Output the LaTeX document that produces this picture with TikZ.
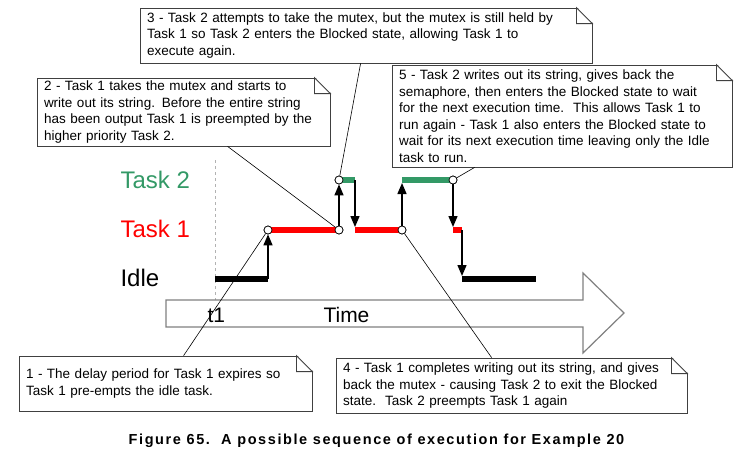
\documentclass[tikz,border=0pt]{standalone}
\usepackage{fontspec}
\setmainfont{Liberation Sans}
\newfontfamily\capfont[LetterSpace=11]{Liberation Sans}
\usetikzlibrary{arrows.meta}
\tikzset{>={Triangle[width=9pt,length=11pt]}}
\definecolor{taskgreen}{RGB}{51,153,102}
\definecolor{taskred}{RGB}{255,0,0}
\tikzset{
  note/.style={draw=black!75,fill=white,line width=0.8pt,align=left,
    inner xsep=7pt,inner ysep=0pt,font=\fontsize{13.5}{16.5}\selectfont},
  lane/.style={anchor=west,font=\fontsize{24}{24}\selectfont},
  bar/.style={line width=6pt},
  sw/.style={circle,draw,fill=white,minimum size=8pt,inner sep=0pt,line width=0.7pt},
  pointer/.style={draw=black,line width=0.6pt}
}

\begin{document}
\begin{tikzpicture}[x=1pt,y=-1pt]
\useasboundingbox (0,0) rectangle (735,456);

%time axis
\draw [black!30,dashed,line width=0.6pt] (215,160) -- (215,300);
\draw [black!50,line width=1.2pt,fill=white] (166,300) -- (583,300) -- (583,273) -- (624,313)
  -- (583,353) -- (583,327) -- (166,327) -- cycle;
\node [anchor=west,font=\fontsize{21}{21}\selectfont] (t1) at (204,315) {t1};
\node [anchor=west,font=\fontsize{21}{21}\selectfont] (time) at (320,315) {Time};

\node [lane,taskgreen] (lane2) at (117,180) {Task 2};
\node [lane,taskred] (lane1) at (117,229) {Task 1};
\node [lane] (lane0) at (117,278) {Idle};

\coordinate (idleA) at (215,279);
\coordinate (idleB) at (268,279);
\coordinate (g1e) at (355,180);
\coordinate (r2s) at (355,230);
\coordinate (g2s) at (402,180);
\coordinate (r3s) at (453,230);
\coordinate (r3e) at (462,230);
\coordinate (idleC) at (462,279);
\coordinate (idleD) at (536,279);

\begin{scope}[every node/.style={sw}]
\node (sw1) at (268,230) {};
\node (sw2) at (339,230) {};
\node (sw3) at (339,180) {};
\node (sw4) at (402,230) {};
\node (sw5) at (453,180) {};
\end{scope}

%bars
\draw [bar] (idleA) -- (idleB);
\draw [bar,taskred] (sw1.center) -- (sw2.center);
\draw [bar,taskgreen] (sw3.center) -- (g1e);
\draw [bar,taskred] (r2s) -- (sw4.center);
\draw [bar,taskgreen] (g2s) -- (sw5.center);
\draw [bar,taskred] (r3s) -- (r3e);
\draw [bar] (idleC) -- (idleD);

%switches
\begin{scope}[line width=1.4pt]
\draw [->] (idleB) -- (sw1);
\draw [->] (sw2) -- (sw3);
\draw [->] (g1e) -- ([yshift=3pt]r2s);
\draw [->] (sw4) -- ([yshift=-3pt]g2s);
\draw [->] (sw5) -- ([yshift=3pt]r3s);
\draw [->] (r3e) -- ([yshift=3pt]idleC);
\end{scope}

\begin{scope}[every node/.style={sw}]
\node at (sw1) {};
\node at (sw2) {};
\node at (sw3) {};
\node at (sw4) {};
\node at (sw5) {};
\end{scope}

%callouts
\node [note,text width=279pt,minimum height=55pt] (note1) at (165.5,383.5)
  {1 - The delay period for Task 1 expires so\\Task 1 pre-empts the idle task.};
\node [note,text width=279pt,minimum height=68pt] (note2) at (183.5,112)
  {2 - Task 1 takes the mutex and starts to\\write out its string. Before the entire string\\has been output Task 1 is preempted by the\\higher priority Task 2.};
\node [note,text width=438pt,minimum height=55pt] (note3) at (366,35.5)
  {3 - Task 2 attempts to take the mutex, but the mutex is still held by\\Task 1 so Task 2 enters the Blocked state, allowing Task 1 to\\execute again.};
\node [note,text width=337pt,minimum height=55pt] (note4) at (511.5,385.5)
  {4 - Task 1 completes writing out its string, and gives\\back the mutex - causing Task 2 to exit the Blocked\\state.\ \ Task 2 preempts Task 1 again};
\node [note,text width=326pt,minimum height=102pt] (note5) at (562,116)
  {5 - Task 2 writes out its string, gives back the\\semaphore, then enters the Blocked state to wait\\for the next execution time.\ \ This allows Task 1 to\\run again - Task 1 also enters the Blocked state to\\wait for its next execution time leaving only the Idle\\task to run.};

\foreach \n in {note1,note2,note3,note4,note5} {
  \fill [white] ([xshift=1pt,yshift=1pt]\n.north east) -- ([xshift=-16pt,yshift=1pt]\n.north east)
    -- ([xshift=1pt,yshift=-16pt]\n.north east) -- cycle;
  \draw [black!75,line width=0.8pt] ([xshift=-16pt]\n.north east) -- ([yshift=-16pt]\n.north east)
    -- ([xshift=-16pt,yshift=-16pt]\n.north east) -- cycle;
}

\path [pointer] ([xshift=165pt]note1.north west) edge (sw1);
\path [pointer] ([xshift=191pt]note2.south west) edge (sw2);
\path [pointer] ([xshift=221pt]note3.south west) edge (sw3);
\path [pointer] ([xshift=156pt]note4.north west) edge (sw4);
\path [pointer] ([xshift=83pt]note5.south west) edge (sw5);

\node [font=\capfont\bfseries\fontsize{14.5}{14.5}\selectfont] (caption) at (376.5,441)
  {Figure 65.\ \ A possible sequence of execution for Example 20};
\end{tikzpicture}
\end{document}
